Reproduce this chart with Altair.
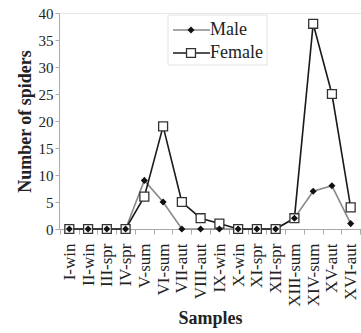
import altair as alt
import pandas as pd

samples = ["I-win", "II-win", "III-spr", "IV-spr", "V-sum", "VI-sum", "VII-aut", "VIII-aut",
           "IX-win", "X-win", "XI-spr", "XII-spr", "XIII-sum", "XIV-sum", "XV-aut", "XVI-aut"]
male = [0, 0, 0, 0, 9, 5, 0, 0, 0, 0, 0, 0, 2, 7, 8, 1]
female = [0, 0, 0, 0, 6, 19, 5, 2, 1, 0, 0, 0, 2, 38, 25, 4]
y_ticks = [0, 5, 10, 15, 20, 25, 30, 35, 40]

df = pd.DataFrame({"Sample": samples, "Male": male, "Female": female})

FONT = "Liberation Serif"

x = alt.X("Sample:N", sort=samples,
          scale=alt.Scale(type="band", paddingInner=0, paddingOuter=0.05),
          axis=alt.Axis(title="Samples", labelAngle=270, labelFontSize=17, labelFont=FONT,
                        labelColor="#222", labelOverlap=False, titleFont=FONT, titleFontSize=18,
                        titleFontWeight="bold", titleColor="#222", domainColor="#aaa",
                        tickColor="#aaa", tickBand="extent", tickSize=5, labelPadding=9,
                        titlePadding=3))
y_axis = alt.Axis(title="Number of spiders", values=y_ticks, tickCount=9,
                  labelFontSize=15, labelFont=FONT, labelColor="#222", labelOverlap=False,
                  titleFont=FONT, titleFontSize=18, titleFontWeight="bold", titleColor="#222",
                  domainColor="#aaa", tickColor="#aaa", tickSize=4, grid=False, titlePadding=4)
y_scale = alt.Scale(domain=[0, 40], nice=False)
y_m = alt.Y("Male:Q", scale=y_scale, axis=y_axis)
y_f = alt.Y("Female:Q", scale=y_scale, axis=y_axis)

base = alt.Chart(df)
male_line = base.mark_line(color="#8a8a8a", strokeWidth=1.6).encode(x=x, y=y_m)
female_line = base.mark_line(color="#1a1a1a", strokeWidth=1.6).encode(x=x, y=y_f)
female_pts = base.mark_point(shape="square", filled=True, fill="white", stroke="#333",
                             strokeWidth=1.3, size=80, opacity=1).encode(x=x, y=y_f)
male_pts = base.mark_point(shape="diamond", filled=True, color="#111", size=50,
                           opacity=1).encode(x=x, y=y_m)

# manual legend
leg = alt.Chart(pd.DataFrame({"a": [0]}))
box = leg.mark_rect(fill="white", stroke="#e2e2e2", strokeWidth=1).encode(
    x=alt.value(109), x2=alt.value(208), y=alt.value(2), y2=alt.value(52))
l1 = leg.mark_rule(color="#8a8a8a", strokeWidth=1.6).encode(
    x=alt.value(114), x2=alt.value(151), y=alt.value(17))
p1 = leg.mark_point(shape="diamond", filled=True, color="#111", size=50, opacity=1).encode(
    x=alt.value(132), y=alt.value(17))
t1 = leg.mark_text(text="Male", align="left", baseline="middle", font=FONT, fontSize=18,
                   color="#222").encode(x=alt.value(151), y=alt.value(17))
l2 = leg.mark_rule(color="#1a1a1a", strokeWidth=1.6).encode(
    x=alt.value(114), x2=alt.value(151), y=alt.value(40))
p2 = leg.mark_point(shape="square", filled=True, fill="white", stroke="#333", strokeWidth=1.3,
                    size=80, opacity=1).encode(x=alt.value(132), y=alt.value(40))
t2 = leg.mark_text(text="Female", align="left", baseline="middle", font=FONT, fontSize=18,
                   color="#222").encode(x=alt.value(151), y=alt.value(40))

chart = alt.layer(male_line, female_line, female_pts, male_pts, box, l1, p1, t1, l2, p2, t2).properties(
    width=302, height=216,
    autosize=alt.AutoSizeParams(type="none"),
    padding={"left": 59, "top": 13, "right": 0, "bottom": 104},
    background="white"
).configure_view(stroke="#e6e6e6")

chart.save("out.html", embed_options={"renderer": "svg", "actions": False})
